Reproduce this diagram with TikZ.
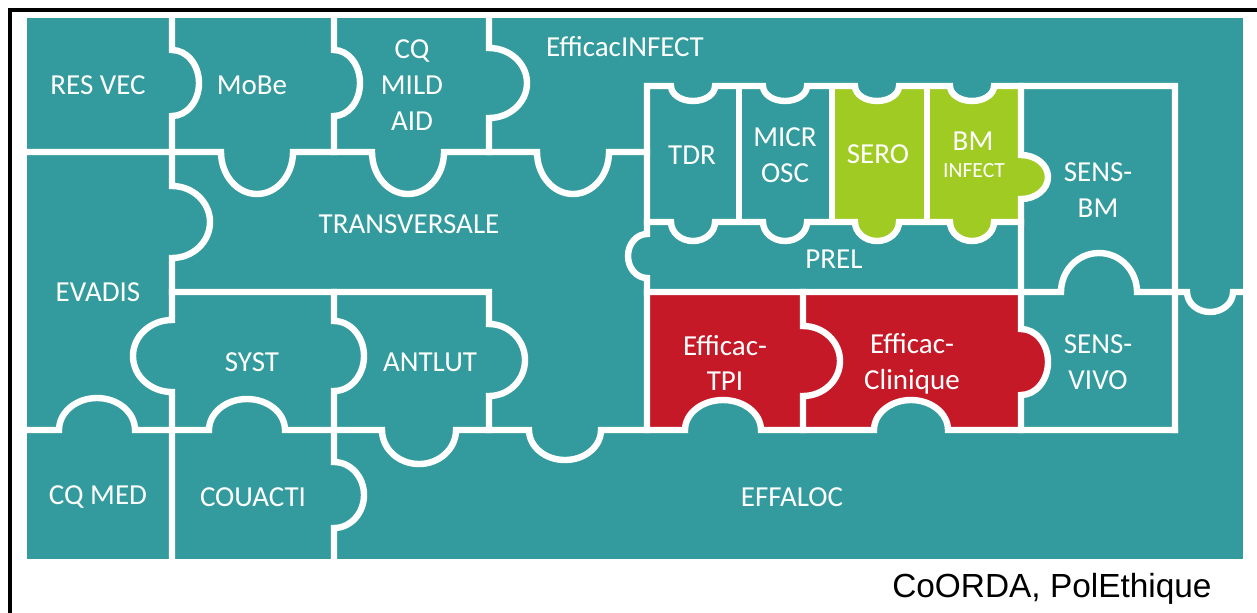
\documentclass[tikz,border=0pt]{standalone}
\usepackage{fontspec}
\setmainfont{Carlito}
\newfontfamily\arialfont{Liberation Sans}
\definecolor{puzteal}{RGB}{51,155,157}
\definecolor{puzred}{RGB}{197,25,39}
\definecolor{puzgreen}{RGB}{160,203,34}

\begin{document}
\begin{tikzpicture}[x=0.5pt,y=-0.5pt,
  wline/.style={white,line width=3.2pt,line cap=rect},
  lbl/.style={text=white,font=\fontsize{14.5}{17.8}\selectfont,align=center,inner sep=0pt}]
\useasboundingbox (0,0) rectangle (1257,612);
\clip (0,0) rectangle (1257,612);
\draw[black,line width=2pt] (10,640) -- (10,10) -- (1290,10);
\fill[puzteal] (27,18) rectangle (1243,559);
% coloured pieces
\fill[puzred] (647,292) -- (1021,292) -- (1021,329) arc[start angle=-90,end angle=90,x radius=27,y radius=33]
  -- (1021,430) -- (948,430) arc[start angle=0,end angle=-180,x radius=37,y radius=30]
  -- (761,430) arc[start angle=0,end angle=-180,x radius=38,y radius=30] -- (647,430) -- cycle;
\fill[puzgreen] (832,86) -- (855,86) arc[start angle=180,end angle=0,x radius=22,y radius=15]
  -- (950,86) arc[start angle=180,end angle=0,x radius=22,y radius=15] -- (1021,86)
  -- (1021,155) arc[start angle=-90,end angle=90,x radius=27,y radius=22] -- (1021,222)
  -- (994,222) arc[start angle=0,end angle=180,x radius=22,y radius=19]
  -- (899,222) arc[start angle=0,end angle=180,x radius=22,y radius=19] -- (832,222) -- cycle;
% white joints
\draw[wline] (172,18) -- (172,50) arc[start angle=-90,end angle=90,x radius=27,y radius=33]
  -- (172,186) arc[start angle=-90,end angle=90,x radius=38,y radius=36]
  -- (172,320) arc[start angle=270,end angle=90,x radius=39,y radius=36] -- (172,559);
\draw[wline] (334,18) -- (334,50) arc[start angle=-90,end angle=90,x radius=26,y radius=33] -- (334,152);
\draw[wline] (334,292) -- (334,321) arc[start angle=-90,end angle=90,x radius=30,y radius=35]
  -- (334,462) arc[start angle=-90,end angle=90,x radius=30,y radius=33] -- (334,559);
\draw[wline] (489,18) -- (489,48) arc[start angle=-90,end angle=90,x radius=38,y radius=35] -- (489,152);
\draw[wline] (172,292) -- (489,292) -- (489,324) arc[start angle=-90,end angle=90,x radius=36,y radius=36] -- (489,430);
\draw[wline] (27,152) -- (221,152) arc[start angle=180,end angle=0,x radius=36,y radius=42]
  -- (372,152) arc[start angle=180,end angle=0,x radius=36,y radius=42]
  -- (537,152) arc[start angle=180,end angle=0,x radius=36,y radius=42] -- (647,152);
\draw[wline] (27,430) -- (59,430) arc[start angle=180,end angle=360,x radius=38,y radius=32]
  -- (209,430) arc[start angle=180,end angle=360,x radius=38,y radius=31]
  -- (382,430) arc[start angle=180,end angle=0,x radius=37,y radius=34]
  -- (529,430) arc[start angle=180,end angle=0,x radius=36,y radius=30]
  -- (685,430) arc[start angle=180,end angle=360,x radius=38,y radius=30]
  -- (874,430) arc[start angle=180,end angle=360,x radius=37,y radius=30] -- (1175,430);
\draw[wline] (647,430) -- (647,278) arc[start angle=90,end angle=270,x radius=19,y radius=22]
  -- (647,86) -- (671,86) arc[start angle=180,end angle=0,x radius=22,y radius=15]
  -- (763,86) arc[start angle=180,end angle=0,x radius=22,y radius=15]
  -- (855,86) arc[start angle=180,end angle=0,x radius=22,y radius=15]
  -- (950,86) arc[start angle=180,end angle=0,x radius=22,y radius=15] -- (1175,86) -- (1175,430);
\draw[wline] (647,222) -- (671,222) arc[start angle=180,end angle=0,x radius=22,y radius=19]
  -- (763,222) arc[start angle=180,end angle=0,x radius=22,y radius=19]
  -- (855,222) arc[start angle=180,end angle=0,x radius=22,y radius=19]
  -- (950,222) arc[start angle=180,end angle=0,x radius=22,y radius=19] -- (1021,222);
\draw[wline] (739,86) -- (739,222);
\draw[wline] (832,86) -- (832,222);
\draw[wline] (927,86) -- (927,222);
\draw[wline] (1021,86) -- (1021,155) arc[start angle=-90,end angle=90,x radius=27,y radius=22]
  -- (1021,329) arc[start angle=-90,end angle=90,x radius=27,y radius=33] -- (1021,430);
\draw[wline] (647,292) -- (1061,292) arc[start angle=180,end angle=360,x radius=38,y radius=39]
  -- (1187,292) arc[start angle=180,end angle=0,x radius=23,y radius=20] -- (1243,292);
\draw[wline] (803,292) -- (803,326) arc[start angle=-90,end angle=90,x radius=37,y radius=35] -- (803,430);
% labels
\draw (98,85) node[lbl] (resvec) {RES VEC};
\draw (252,85) node[lbl] (mobe) {MoBe};
\draw (412,85) node[lbl] (cqmild) {CQ\\MILD\\AID};
\draw (625,47) node[lbl] (efinfect) {EfficacINFECT};
\draw (409,224) node[lbl] (transv) {TRANSVERSALE};
\draw (98,292) node[lbl] (evadis) {EVADIS};
\draw (252,362) node[lbl] (syst) {SYST};
\draw (430,362) node[lbl] (antlut) {ANTLUT};
\draw (692,155) node[lbl] (tdr) {TDR};
\draw (785,155) node[lbl] (micr) {MICR\\OSC};
\draw (878,154) node[lbl] (sero) {SERO};
\draw (973,141) node[lbl] (bm) {BM};
\draw (974,171) node[lbl,font=\fontsize{10.8}{13}\selectfont] (infect) {INFECT};
\draw (1098,190) node[lbl] (sensbm) {SENS-\\BM};
\draw (834,259) node[lbl] (prel) {PREL};
\draw (725,363) node[lbl] (tpi) {Efficac-\\TPI};
\draw (912,364) node[lbl] (clin) {Efficac-\\Clinique};
\draw (1098,362) node[lbl] (sensvivo) {SENS-\\VIVO};
\draw (98,497) node[lbl] (cqmed) {CQ MED};
\draw (253,497) node[lbl] (couacti) {COUACTI};
\draw (792,497) node[lbl] (effaloc) {EFFALOC};
\draw (1212,597) node[anchor=base east,inner sep=0pt,font=\arialfont\fontsize{16.7}{20}\selectfont] (coorda) {CoORDA, PolEthique};
\end{tikzpicture}
\end{document}
